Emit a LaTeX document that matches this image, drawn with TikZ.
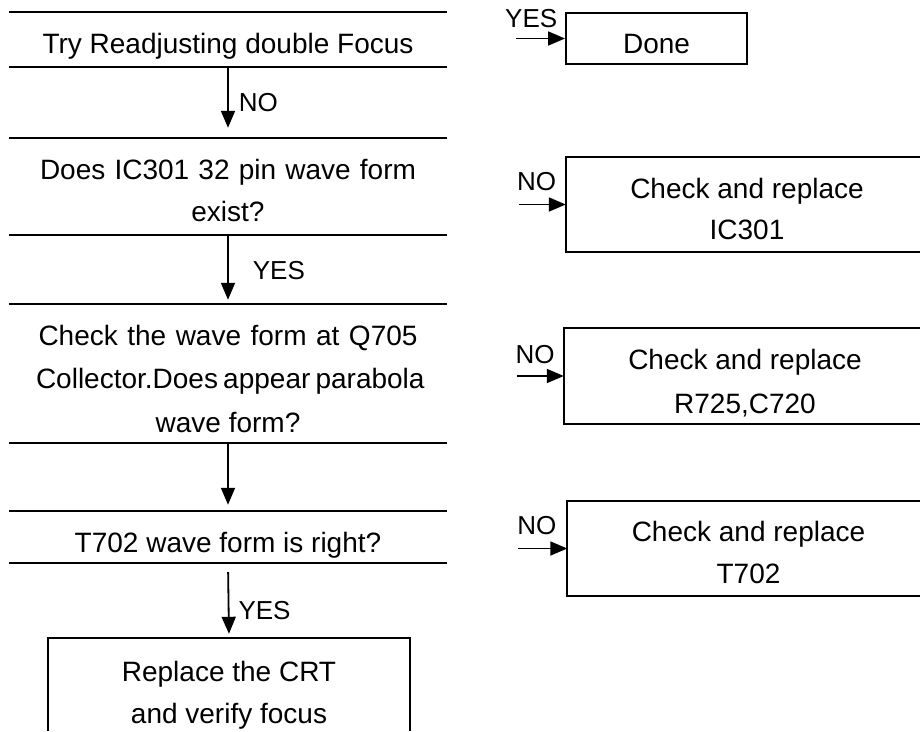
\documentclass[tikz,border=0pt]{standalone}
\usepackage{fontspec}
\setmainfont{Liberation Sans}
\usetikzlibrary{arrows.meta}
\newcommand{\mlines}[1]{\begin{tabular}[t]{@{}c@{}}#1\end{tabular}}
\tikzset{
  basetext/.style={font=\fontsize{28}{42}\selectfont, inner sep=0pt, text height=30pt},
  band/.style={basetext, minimum width=438pt},
  rbox/.style={basetext, minimum width=362pt},
  lbl/.style={font=\fontsize{26}{30}\selectfont, inner sep=0pt},
  arr/.style={-{Triangle[length=17pt,width=14pt]}, line width=1.8pt},
  rule/.style={line width=1.9pt},
}
\begin{document}
\begin{tikzpicture}[x=1pt, y=-1pt]
\useasboundingbox[fill=white] (0,0) rectangle (920,731);
\coordinate (pageR) at (920,0);

% left column
\node[band, minimum height=55pt, text depth=3pt] (d1) at (228,39.5) {Try Readjusting double Focus};
\node[band, minimum height=97pt, text depth=45pt] (d2) at (228,186.5)
  {\mlines{\makebox[376pt][s]{Does IC301 32 pin wave form}\\ exist?}};
\node[band, minimum height=139pt, text depth=87pt] (d3) at (228,373.5)
  {\mlines{\makebox[379pt][s]{Check the wave form at Q705}\\[1.5pt] \makebox[384pt][s]{Collector.Does appear parabola}\\[1.5pt] wave form?}};
\node[band, minimum height=52pt, text depth=0pt] (d4) at (228,537) {T702 wave form is right?};
\node[basetext, minimum width=362pt, minimum height=93pt, text depth=37pt] (crt) at (229,684.5)
  {\mlines{Replace the CRT\\ and verify focus}};

\foreach \n in {d1,d2,d3,d4}{
  \draw[rule] (\n.north west) -- (\n.north east) (\n.south west) -- (\n.south east);
}
\draw[rule] (crt.south west) -- (crt.north west) -- (crt.north east) -- (crt.south east);

\draw[arr, shorten >=10pt] (d1.south) -- (d2.north) node[lbl, pos=0.5, right=10pt] {NO};
\draw[arr, shorten >=4pt] (d2.south) -- (d3.north) node[lbl, pos=0.51, right=24pt] {YES};
\draw[arr, shorten >=6pt] (d3.south) -- (d4.north);
\draw[arr, shorten <=9pt, shorten >=4pt] (d4.south) -- (crt.north) node[lbl, pos=0.64, right=9pt] {YES};

% right column
\node[basetext, draw, rule, minimum width=181pt, minimum height=51pt, text depth=1pt] (done) at (656.5,38.5) {Done};
\node[rbox, minimum height=95pt, text depth=43pt] (b2) at (747,204.5)
  {\mlines{Check and replace\\[-1pt] IC301}};
\node[rbox, minimum height=96pt, text depth=44pt] (b3) at (745,376)
  {\mlines{Check and replace\\[2pt] R725,C720}};
\node[rbox, minimum height=95pt, text depth=45pt] (b4) at (748.5,548.5)
  {\mlines{Check and replace\\ T702}};

\foreach \n in {b2,b3,b4}{
  \draw[rule] (\n.north -| pageR) -- (\n.north west) -- (\n.south west) -- (\n.south -| pageR);
}

\draw[arr] ([xshift=-49pt]done.west) -- (done.west) node[lbl, pos=0.31, above=10pt] {YES};
\draw[arr] ([xshift=-47pt]b2.west) -- (b2.west) node[lbl, pos=0.38, above=13pt] {NO};
\draw[arr] ([xshift=-47pt]b3.west) -- (b3.west) node[lbl, pos=0.39, above=11pt] {NO};
\draw[arr] ([xshift=-49pt]b4.west) -- (b4.west) node[lbl, pos=0.38, above=13pt] {NO};
\end{tikzpicture}
\end{document}
